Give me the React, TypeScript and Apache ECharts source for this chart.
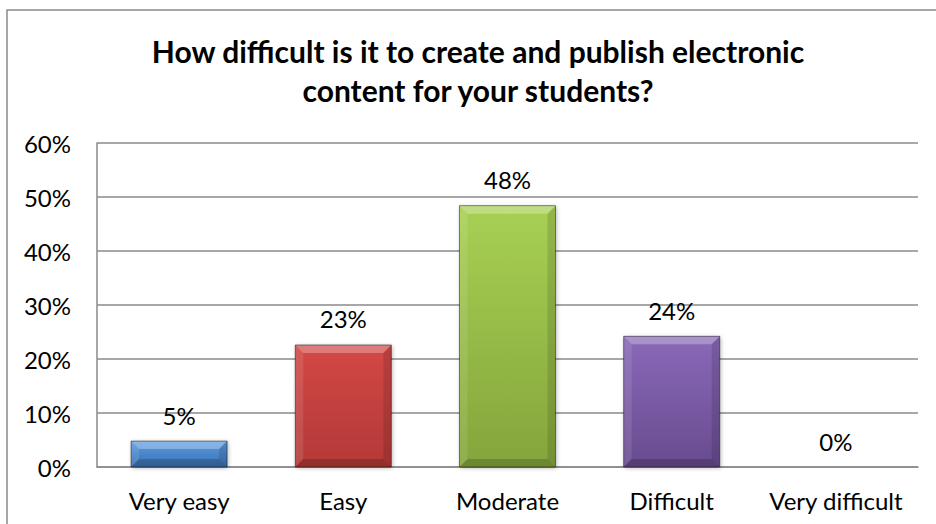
import React, { useEffect, useRef } from "react";
import * as echarts from "echarts";

const categories = ["Very easy", "Easy", "Moderate", "Difficult", "Very difficult"];
const values = [4.8, 22.6, 48.4, 24.2, 0];
const barTop = ["#5b9be0", "#d34846", "#a8d054", "#8a69b9"];
const barBottom = ["#3a70b3", "#b33937", "#84a53b", "#684b8f"];
const yTicks = [0, 10, 20, 30, 40, 50, 60];
const titleLines = [
  "How difficult is it to create and publish electronic",
  "content for your students?",
];

const FONT = "Lato, 'Open Sans', sans-serif";

export default function App() {
  const ref = useRef<HTMLDivElement>(null);
  useEffect(() => {
    if (!ref.current) return;
    const chart = echarts.init(ref.current, undefined, { renderer: "svg" });
    const option: any = {
      animation: false,
      backgroundColor: "#ffffff",
      grid: { left: 97, right: 18, top: 143, bottom: 57, containLabel: false },
      graphic: [
        {
          type: "rect",
          shape: { x: 7, y: 10, width: 1000, height: 600 },
          style: { fill: "none", stroke: "#8a8a8a", lineWidth: 1.5 },
          silent: true,
          z: -10,
        },
        {
          type: "text",
          x: 478,
          y: 51,
          style: {
            text: titleLines[0],
            font: `bold 30px ${FONT}`,
            fill: "#000",
            textAlign: "center",
            textVerticalAlign: "middle",
          },
        },
        {
          type: "text",
          x: 478,
          y: 90,
          style: {
            text: titleLines[1],
            font: `bold 30px ${FONT}`,
            fill: "#000",
            textAlign: "center",
            textVerticalAlign: "middle",
          },
        },
      ],
      xAxis: {
        type: "category",
        data: categories,
        axisLine: { show: true, lineStyle: { color: "#8a8a8a", width: 1.5 } },
        axisTick: { show: false },
        axisLabel: {
          color: "#000",
          fontFamily: FONT,
          fontSize: 24,
          margin: 21,
          interval: 0,
          hideOverlap: false,
        },
        splitLine: { show: false },
      },
      yAxis: {
        type: "value",
        min: 0,
        max: 60,
        interval: 10,
        axisLine: { show: true, lineStyle: { color: "#8a8a8a", width: 1.5 } },
        axisTick: { show: false },
        axisLabel: {
          color: "#000",
          fontFamily: FONT,
          fontSize: 24,
          margin: 26,
          formatter: (v: number) => (yTicks.includes(v) ? `${v}%` : ""),
        },
        splitLine: { show: true, lineStyle: { color: "#8a8a8a", width: 1.5 } },
      },
      series: [
        {
          type: "custom",
          data: values.map((v, i) => [i, v]),
          renderItem: (params: any, api: any) => {
            const idx = params.dataIndex;
            const v = api.value(1);
            const top = api.coord([api.value(0), v]);
            const base = api.coord([api.value(0), 0]);
            const bandW = api.size([1, 0])[0];
            const w = bandW * 0.585;
            const x0 = top[0] - w / 2;
            const x1 = top[0] + w / 2;
            const y0 = top[1];
            const y1 = base[1];
            const h = y1 - y0;
            const children: any[] = [];
            if (h > 0.5) {
              const b = Math.min(8, h / 2, w / 2);
              children.push({
                type: "rect",
                shape: { x: x0, y: y0, width: w, height: h },
                style: {
                  fill: new echarts.graphic.LinearGradient(0, 0, 0, 1, [
                    { offset: 0, color: barTop[idx] },
                    { offset: 1, color: barBottom[idx] },
                  ]),
                  shadowBlur: 4,
                  shadowOffsetX: 1,
                  shadowOffsetY: 1,
                  shadowColor: "rgba(0,0,0,0.3)",
                },
              });
              children.push({
                type: "polygon",
                shape: { points: [[x0, y0], [x1, y0], [x1 - b, y0 + b], [x0 + b, y0 + b]] },
                style: { fill: "rgba(255,255,255,0.28)" },
              });
              children.push({
                type: "polygon",
                shape: { points: [[x0, y0], [x0 + b, y0 + b], [x0 + b, y1 - b], [x0, y1]] },
                style: { fill: "rgba(255,255,255,0.1)" },
              });
              children.push({
                type: "polygon",
                shape: { points: [[x1, y0], [x1, y1], [x1 - b, y1 - b], [x1 - b, y0 + b]] },
                style: { fill: "rgba(0,0,0,0.12)" },
              });
              children.push({
                type: "polygon",
                shape: { points: [[x0, y1], [x1, y1], [x1 - b, y1 - b], [x0 + b, y1 - b]] },
                style: { fill: "rgba(0,0,0,0.18)" },
              });
              children.push({
                type: "rect",
                shape: { x: x0, y: y0, width: w, height: h },
                style: { fill: "none", stroke: "rgba(0,0,0,0.45)", lineWidth: 1 },
              });
            }
            children.push({
              type: "text",
              x: top[0],
              y: y0 - 26,
              style: {
                text: `${Math.round(v)}%`,
                font: `24px ${FONT}`,
                fill: "#000",
                textAlign: "center",
                textVerticalAlign: "middle",
              },
            });
            return { type: "group", children };
          },
        },
      ],
    };
    chart.setOption(option);
    return () => chart.dispose();
  }, []);
  return <div ref={ref} style={{ width: 936, height: 524, position: "absolute", left: 0, top: 0 }} />;
}
